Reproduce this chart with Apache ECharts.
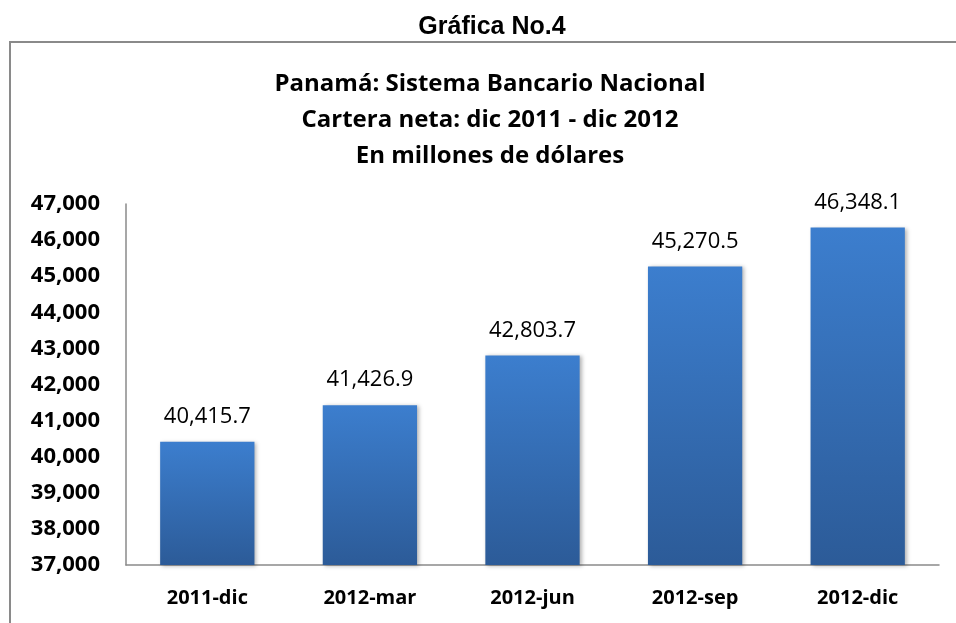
<!DOCTYPE html>
<html>
<head>
<meta charset="utf-8">
<script src="https://cdn.jsdelivr.net/npm/echarts@6/dist/echarts.min.js"></script>
<style>
  html, body { margin: 0; padding: 0; background: #fff; }
  #main { width: 956px; height: 623px; }
</style>
</head>
<body>
<div id="main"></div>
<script>
// datos de la gráfica
var categorias = ['2011-dic', '2012-mar', '2012-jun', '2012-sep', '2012-dic'];
var cartera = [40415.7, 41426.9, 42803.7, 45270.5, 46348.1];
var ejeMin = 37000;
var ejeMax = 47000;
var ejeIntervalo = 1000;

var tituloFigura = 'Gráfica No.4';
var tituloLineas = ['Panamá: Sistema Bancario Nacional', 'Cartera neta: dic 2011 - dic 2012', 'En millones de dólares'];

var myChart = echarts.init(document.getElementById('main'));

var option = {
    backgroundColor: '#fff',
    animation: false,
    graphic: [
        {
            type: 'rect',
            shape: { x: 10, y: 42, width: 980, height: 640 },
            style: { fill: 'none', stroke: '#8a8a8a', lineWidth: 2 },
            z: 0
        },
        {
            type: 'text',
            x: 492, y: 27,
            style: {
                text: tituloFigura,
                textAlign: 'center', textVerticalAlign: 'middle',
                font: 'bold 25px "Liberation Sans", Arial, sans-serif',
                fill: '#000'
            }
        },
        {
            type: 'text',
            x: 490, y: 120,
            style: {
                text: tituloLineas.join('\n'),
                textAlign: 'center', textVerticalAlign: 'middle',
                font: 'bold 24px "Open Sans", sans-serif',
                lineHeight: 36,
                fill: '#000'
            }
        }
    ],
    grid: { left: 126, right: 17, top: 204, bottom: 58 },
    xAxis: {
        type: 'category',
        data: categorias,
        axisLine: { lineStyle: { color: '#8a8a8a', width: 1.5 } },
        axisTick: { show: false },
        axisLabel: {
            margin: 23,
            color: '#000',
            fontFamily: 'Open Sans',
            fontWeight: 'bold',
            fontSize: 20
        }
    },
    yAxis: {
        type: 'value',
        min: ejeMin,
        max: ejeMax,
        interval: ejeIntervalo,
        splitLine: { show: false },
        axisTick: { show: false },
        axisLine: { show: true, lineStyle: { color: '#8a8a8a', width: 1.5 } },
        axisLabel: {
            margin: 26,
            color: '#000',
            fontFamily: 'Open Sans',
            fontWeight: 'bold',
            fontSize: 22,
            formatter: function (v) { return v.toLocaleString('en-US'); }
        }
    },
    series: [{
        type: 'bar',
        data: cartera,
        barWidth: '58%',
        itemStyle: {
            color: new echarts.graphic.LinearGradient(0, 0, 0, 1, [
                { offset: 0, color: '#3c7ece' },
                { offset: 1, color: '#2c5b98' }
            ]),
            shadowColor: 'rgba(0,0,0,0.3)',
            shadowBlur: 4,
            shadowOffsetX: 2,
            shadowOffsetY: 1
        },
        label: {
            show: true,
            position: 'top',
            distance: 14,
            color: '#000',
            fontFamily: 'Open Sans',
            fontSize: 22,
            formatter: function (p) {
                return p.value.toLocaleString('en-US', { minimumFractionDigits: 1, maximumFractionDigits: 1 });
            }
        }
    }]
};

myChart.setOption(option);
</script>
</body>
</html>
